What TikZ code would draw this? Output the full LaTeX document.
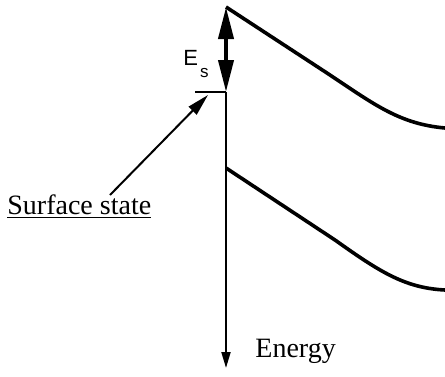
\documentclass[tikz,border=0pt]{standalone}
\usepackage{fontspec}
\setmainfont{Liberation Serif}
\newfontfamily\labelsans{Liberation Sans}
\usepackage{tikz}
\usetikzlibrary{arrows.meta}

\begin{document}
\begin{tikzpicture}[
  x=0.5pt, y=-0.5pt,
  every node/.style={inner sep=0pt, font=\fontsize{14}{16}\selectfont},
  band/.style={line width=1.8pt, line join=round},
  axis/.style={line width=1pt, -{Triangle[length=8pt,width=4.5pt]}},
  gap/.style={line width=2pt, {Triangle[length=16pt,width=7.5pt]}-{Triangle[length=16pt,width=7.5pt]}},
  level/.style={line width=1.3pt},
  pointer/.style={line width=1pt, -{Triangle[length=11pt,width=5.5pt]}},
]
\useasboundingbox (0,0) rectangle (445,376);
\coordinate (cb) at (226,7);
\coordinate (vb) at (226,168);
\coordinate (ss) at (226,92);
\coordinate (ssl) at (195,92);
\coordinate (bot) at (226,368);
\coordinate (tail) at (110,195);
\coordinate (head) at (208,95);
\node[anchor=base west] (surf) at (7,214) {\underline{Surface state}};
\node[anchor=base west] (energy) at (255,357) {Energy};
\node[anchor=base west, font=\fontsize{11}{13}\labelsans] (es) at (183,65) {E\kern1pt\raisebox{-6pt}{\fontsize{8.5}{9}\selectfont s}};
\draw[band] (cb) -- (330,75) .. controls (375,105) and (400,124) .. (445,128);
\draw[band] (vb) -- (335,240) .. controls (380,272) and (405,288) .. (445,290);
\draw[gap] (cb) -- (ss);
\draw[level] (ssl) -- (ss);
\draw[axis] (ss) -- (bot);
\draw[pointer] (tail) -- (head);
\end{tikzpicture}
\end{document}
